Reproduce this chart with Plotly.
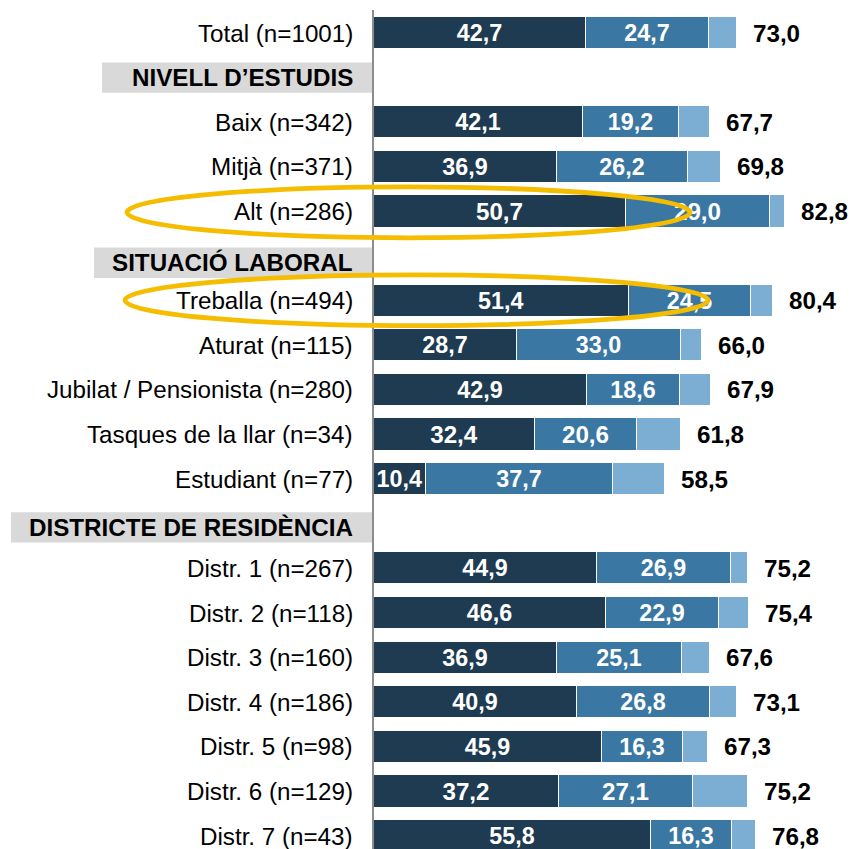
import plotly.graph_objects as go

# Dades (percentatges)
categories = [
    "Total (n=1001)",
    "Baix (n=342)", "Mitjà (n=371)", "Alt (n=286)",
    "Treballa (n=494)", "Aturat (n=115)", "Jubilat / Pensionista (n=280)",
    "Tasques de la llar (n=34)", "Estudiant (n=77)",
    "Distr. 1 (n=267)", "Distr. 2 (n=118)", "Distr. 3 (n=160)", "Distr. 4 (n=186)",
    "Distr. 5 (n=98)", "Distr. 6 (n=129)", "Distr. 7 (n=43)",
]
sections = ["NIVELL D’ESTUDIS", "SITUACIÓ LABORAL", "DISTRICTE DE RESIDÈNCIA"]
section_sizes = [3, 5, 7]
serie_1 = [42.7, 42.1, 36.9, 50.7, 51.4, 28.7, 42.9, 32.4, 10.4,
           44.9, 46.6, 36.9, 40.9, 45.9, 37.2, 55.8]
serie_2 = [24.7, 19.2, 26.2, 29.0, 24.5, 33.0, 18.6, 20.6, 37.7,
           26.9, 22.9, 25.1, 26.8, 16.3, 27.1, 16.3]
serie_3 = [5.6, 6.4, 6.7, 3.1, 4.5, 4.3, 6.4, 8.8, 10.4,
           3.4, 5.9, 5.6, 5.4, 5.1, 10.9, 4.7]
total = [73.0, 67.7, 69.8, 82.8, 80.4, 66.0, 67.9, 61.8, 58.5,
         75.2, 75.4, 67.6, 73.1, 67.3, 75.2, 76.8]

# posicions de files: Total, i després capçalera + elements de cada secció
ys = [0]
header_y = []
pos = 1
for n in section_sizes:
    header_y.append(pos)
    pos += 1
    for _ in range(n):
        ys.append(pos)
        pos += 1

colors = ["#1f3b51", "#3a77a2", "#7caed4"]
FONT = "Liberation Sans, Arial, sans-serif"
FS = 24.2

fig = go.Figure()
for vals, col, show in zip([serie_1, serie_2, serie_3], colors, [True, True, False]):
    fig.add_trace(go.Bar(
        x=vals, y=ys, orientation="h",
        marker=dict(color=col, line=dict(color="white", width=1)),
        width=0.72,
        texttemplate="%{x:.1f}" if show else "",
        textposition="inside" if show else "none",
        insidetextanchor="middle",
        textangle=0,
        textfont=dict(color="white", size=FS, family=FONT, weight="bold"),
        hoverinfo="skip",
    ))

# totals a la dreta
for y, t in zip(ys, total):
    fig.add_annotation(x=t, y=y, xref="x", yref="y", text=f"{t:.1f}".replace(".", ","),
                       showarrow=False, xanchor="left", xshift=14,
                       font=dict(size=FS, color="black", family=FONT, weight="bold"))

# etiquetes de categoria
for y, c in zip(ys, categories):
    fig.add_annotation(x=0, y=y, xref="paper", yref="y", text=c, showarrow=False,
                       xanchor="right", xshift=-19,
                       font=dict(size=FS, color="black", family=FONT))

# capçaleres de secció amb fons gris (lleugerament desplaçades cap avall)
box_left = [-272, -280, -363]
nudge = [0, 0.15, 0.08]
for y, s, bl, d in zip(header_y, sections, box_left, nudge):
    yc = y + d
    fig.add_shape(type="rect", xref="paper", yref="y", xsizemode="pixel", xanchor=0,
                  x0=bl, x1=0, y0=yc - 0.34, y1=yc + 0.34,
                  fillcolor="#d9d9d9", line=dict(width=0), layer="below")
    fig.add_annotation(x=0, y=yc, xref="paper", yref="y", text=s, showarrow=False,
                       xanchor="right", xshift=-19,
                       font=dict(size=FS, color="black", family=FONT, weight="bold"))

# el·lipses destacades (Alt i Treballa)
for y, x0, x1 in [(4.02, -247, 316), (5.99, -249, 334)]:
    fig.add_shape(type="circle", xref="paper", yref="y", xsizemode="pixel", xanchor=0,
                  x0=x0, x1=x1, y0=y - 0.57, y1=y + 0.57,
                  line=dict(color="#f5bd00", width=4.8), layer="above")

fig.update_layout(
    width=851, height=849,
    barmode="stack",
    bargap=0,
    separators=",.",
    showlegend=False,
    plot_bgcolor="white",
    paper_bgcolor="white",
    margin=dict(l=374, r=0, t=10, b=0),
    font=dict(family=FONT),
    xaxis=dict(range=[0, 96], showgrid=False, zeroline=False, showticklabels=False),
    yaxis=dict(range=[18.29, -0.516], showgrid=False, zeroline=False, showticklabels=False,
               showline=True, linecolor="#8c8c8c", linewidth=2),
)

fig.write_html("out.html", config={"displayModeBar": False},
               post_script="document.body.style.margin='0';")
